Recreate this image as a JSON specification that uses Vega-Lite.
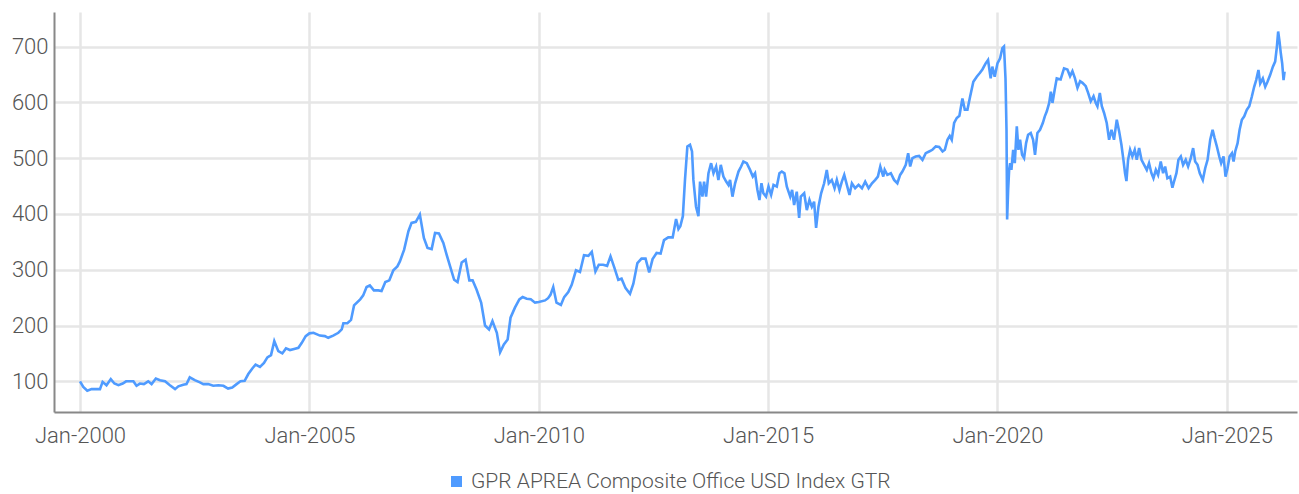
{
  "$schema": "https://vega.github.io/schema/vega-lite/v6.json",
  "width": 1243,
  "height": 400,
  "autosize": {"type": "none"},
  "padding": {"left": 54, "top": 12, "right": 2, "bottom": 82},
  "background": "#ffffff",
  "config": {
    "font": "Roboto",
    "view": {"stroke": null},
    "axis": {
      "labelFont": "Roboto",
      "labelFontWeight": 300,
      "labelFontSize": 22,
      "labelColor": "#555555",
      "domainColor": "#888888",
      "domainWidth": 2,
      "ticks": false,
      "gridColor": "#e6e6e6",
      "gridWidth": 2.5,
      "title": null
    },
    "legend": {
      "labelFont": "Roboto",
      "labelFontWeight": 300,
      "labelFontSize": 21,
      "labelColor": "#555555"
    }
  },
  "data": {
    "values": [
      {"date": "2000-01-01", "value": 100},
      {"date": "2000-01-27", "value": 90},
      {"date": "2000-02-28", "value": 83},
      {"date": "2000-04-02", "value": 86},
      {"date": "2000-05-04", "value": 86},
      {"date": "2000-06-08", "value": 86},
      {"date": "2000-06-29", "value": 99},
      {"date": "2000-07-30", "value": 93},
      {"date": "2000-09-02", "value": 104},
      {"date": "2000-10-01", "value": 96},
      {"date": "2000-11-02", "value": 93},
      {"date": "2000-12-06", "value": 96},
      {"date": "2001-01-02", "value": 100},
      {"date": "2001-02-03", "value": 100},
      {"date": "2001-03-01", "value": 100},
      {"date": "2001-03-26", "value": 92},
      {"date": "2001-04-22", "value": 96},
      {"date": "2001-05-24", "value": 95},
      {"date": "2001-06-27", "value": 100},
      {"date": "2001-07-24", "value": 95},
      {"date": "2001-08-27", "value": 105},
      {"date": "2001-09-29", "value": 102},
      {"date": "2001-11-08", "value": 100},
      {"date": "2001-12-17", "value": 93},
      {"date": "2002-01-27", "value": 86},
      {"date": "2002-02-22", "value": 91},
      {"date": "2002-04-02", "value": 94},
      {"date": "2002-04-28", "value": 95},
      {"date": "2002-05-24", "value": 107},
      {"date": "2002-07-03", "value": 102},
      {"date": "2002-08-13", "value": 98},
      {"date": "2002-09-09", "value": 95},
      {"date": "2002-10-18", "value": 95},
      {"date": "2002-11-27", "value": 92},
      {"date": "2003-01-07", "value": 93},
      {"date": "2003-02-16", "value": 92},
      {"date": "2003-03-25", "value": 87},
      {"date": "2003-04-27", "value": 89},
      {"date": "2003-06-01", "value": 95},
      {"date": "2003-07-02", "value": 100},
      {"date": "2003-08-04", "value": 101},
      {"date": "2003-09-02", "value": 113},
      {"date": "2003-10-04", "value": 123},
      {"date": "2003-10-30", "value": 130},
      {"date": "2003-12-04", "value": 126},
      {"date": "2004-01-05", "value": 133},
      {"date": "2004-02-01", "value": 143},
      {"date": "2004-03-01", "value": 147},
      {"date": "2004-03-27", "value": 172},
      {"date": "2004-04-28", "value": 154},
      {"date": "2004-05-30", "value": 150},
      {"date": "2004-06-28", "value": 159},
      {"date": "2004-07-30", "value": 156},
      {"date": "2004-09-01", "value": 158},
      {"date": "2004-10-05", "value": 160},
      {"date": "2004-11-01", "value": 169},
      {"date": "2004-12-02", "value": 181},
      {"date": "2005-01-01", "value": 186},
      {"date": "2005-02-02", "value": 187},
      {"date": "2005-03-25", "value": 182},
      {"date": "2005-05-04", "value": 181},
      {"date": "2005-05-30", "value": 178},
      {"date": "2005-07-09", "value": 182},
      {"date": "2005-08-19", "value": 187},
      {"date": "2005-09-15", "value": 193},
      {"date": "2005-09-28", "value": 204},
      {"date": "2005-10-30", "value": 204},
      {"date": "2005-11-28", "value": 210},
      {"date": "2005-12-22", "value": 236},
      {"date": "2006-02-09", "value": 247},
      {"date": "2006-03-05", "value": 254},
      {"date": "2006-04-01", "value": 269},
      {"date": "2006-04-27", "value": 272},
      {"date": "2006-05-29", "value": 263},
      {"date": "2006-07-03", "value": 263},
      {"date": "2006-07-29", "value": 262},
      {"date": "2006-08-28", "value": 278},
      {"date": "2006-09-29", "value": 281},
      {"date": "2006-10-31", "value": 299},
      {"date": "2006-12-02", "value": 306},
      {"date": "2006-12-22", "value": 315},
      {"date": "2007-01-25", "value": 336},
      {"date": "2007-02-28", "value": 369},
      {"date": "2007-03-25", "value": 384},
      {"date": "2007-04-28", "value": 386},
      {"date": "2007-05-30", "value": 399},
      {"date": "2007-07-01", "value": 357},
      {"date": "2007-07-30", "value": 339},
      {"date": "2007-09-01", "value": 337},
      {"date": "2007-09-28", "value": 366},
      {"date": "2007-10-29", "value": 365},
      {"date": "2007-12-03", "value": 348},
      {"date": "2007-12-29", "value": 327},
      {"date": "2008-01-26", "value": 306},
      {"date": "2008-02-27", "value": 282},
      {"date": "2008-03-25", "value": 278},
      {"date": "2008-04-27", "value": 313},
      {"date": "2008-05-28", "value": 318},
      {"date": "2008-06-27", "value": 281},
      {"date": "2008-07-23", "value": 281},
      {"date": "2008-08-24", "value": 264},
      {"date": "2008-09-29", "value": 241},
      {"date": "2008-10-30", "value": 200},
      {"date": "2008-12-01", "value": 193},
      {"date": "2008-12-28", "value": 208},
      {"date": "2009-02-01", "value": 187},
      {"date": "2009-02-27", "value": 152},
      {"date": "2009-03-29", "value": 166},
      {"date": "2009-04-28", "value": 175},
      {"date": "2009-05-21", "value": 214},
      {"date": "2009-06-25", "value": 232},
      {"date": "2009-07-30", "value": 247},
      {"date": "2009-08-25", "value": 251},
      {"date": "2009-09-27", "value": 248},
      {"date": "2009-10-29", "value": 247},
      {"date": "2009-12-02", "value": 241},
      {"date": "2010-01-01", "value": 242},
      {"date": "2010-02-20", "value": 245},
      {"date": "2010-03-16", "value": 249},
      {"date": "2010-04-04", "value": 255},
      {"date": "2010-04-26", "value": 269},
      {"date": "2010-05-22", "value": 241},
      {"date": "2010-06-26", "value": 237},
      {"date": "2010-07-22", "value": 251},
      {"date": "2010-08-24", "value": 260},
      {"date": "2010-09-20", "value": 273},
      {"date": "2010-10-24", "value": 299},
      {"date": "2010-11-25", "value": 296},
      {"date": "2010-12-27", "value": 326},
      {"date": "2011-01-31", "value": 325},
      {"date": "2011-02-27", "value": 332},
      {"date": "2011-03-28", "value": 297},
      {"date": "2011-04-24", "value": 309},
      {"date": "2011-05-28", "value": 309},
      {"date": "2011-06-29", "value": 307},
      {"date": "2011-07-26", "value": 324},
      {"date": "2011-08-27", "value": 303},
      {"date": "2011-09-26", "value": 282},
      {"date": "2011-10-22", "value": 284},
      {"date": "2011-11-23", "value": 267},
      {"date": "2011-12-28", "value": 257},
      {"date": "2012-01-24", "value": 275},
      {"date": "2012-02-25", "value": 312},
      {"date": "2012-03-29", "value": 320},
      {"date": "2012-04-30", "value": 320},
      {"date": "2012-05-29", "value": 295},
      {"date": "2012-06-25", "value": 319},
      {"date": "2012-07-27", "value": 330},
      {"date": "2012-08-28", "value": 329},
      {"date": "2012-09-24", "value": 353},
      {"date": "2012-10-28", "value": 358},
      {"date": "2012-12-02", "value": 358},
      {"date": "2012-12-29", "value": 391},
      {"date": "2013-01-17", "value": 373},
      {"date": "2013-02-01", "value": 378},
      {"date": "2013-02-21", "value": 396},
      {"date": "2013-03-10", "value": 461},
      {"date": "2013-03-29", "value": 521},
      {"date": "2013-04-19", "value": 524},
      {"date": "2013-05-05", "value": 512},
      {"date": "2013-05-16", "value": 461},
      {"date": "2013-06-06", "value": 413},
      {"date": "2013-06-25", "value": 396},
      {"date": "2013-07-08", "value": 458},
      {"date": "2013-07-27", "value": 431},
      {"date": "2013-08-09", "value": 458},
      {"date": "2013-08-25", "value": 431},
      {"date": "2013-09-13", "value": 473},
      {"date": "2013-10-04", "value": 491},
      {"date": "2013-10-23", "value": 473},
      {"date": "2013-11-13", "value": 485},
      {"date": "2013-12-01", "value": 461},
      {"date": "2013-12-20", "value": 488},
      {"date": "2014-01-10", "value": 467},
      {"date": "2014-02-01", "value": 458},
      {"date": "2014-02-19", "value": 452},
      {"date": "2014-03-04", "value": 461},
      {"date": "2014-03-23", "value": 431},
      {"date": "2014-04-13", "value": 455},
      {"date": "2014-05-10", "value": 476},
      {"date": "2014-05-31", "value": 485},
      {"date": "2014-06-18", "value": 494},
      {"date": "2014-07-15", "value": 491},
      {"date": "2014-08-10", "value": 479},
      {"date": "2014-09-01", "value": 467},
      {"date": "2014-09-19", "value": 473},
      {"date": "2014-10-08", "value": 443},
      {"date": "2014-10-24", "value": 425},
      {"date": "2014-11-09", "value": 455},
      {"date": "2014-11-24", "value": 437},
      {"date": "2014-12-15", "value": 431},
      {"date": "2015-01-04", "value": 449},
      {"date": "2015-01-25", "value": 434},
      {"date": "2015-02-13", "value": 452},
      {"date": "2015-03-11", "value": 449},
      {"date": "2015-04-01", "value": 473},
      {"date": "2015-04-20", "value": 476},
      {"date": "2015-05-11", "value": 473},
      {"date": "2015-05-30", "value": 449},
      {"date": "2015-06-26", "value": 431},
      {"date": "2015-07-11", "value": 443},
      {"date": "2015-07-27", "value": 416},
      {"date": "2015-08-17", "value": 440},
      {"date": "2015-09-05", "value": 393},
      {"date": "2015-09-18", "value": 431},
      {"date": "2015-10-15", "value": 437},
      {"date": "2015-11-05", "value": 407},
      {"date": "2015-11-26", "value": 425},
      {"date": "2015-12-15", "value": 413},
      {"date": "2016-01-02", "value": 422},
      {"date": "2016-01-18", "value": 375},
      {"date": "2016-02-06", "value": 413},
      {"date": "2016-02-27", "value": 437},
      {"date": "2016-03-22", "value": 455},
      {"date": "2016-04-12", "value": 479},
      {"date": "2016-04-28", "value": 455},
      {"date": "2016-05-22", "value": 461},
      {"date": "2016-06-13", "value": 446},
      {"date": "2016-07-01", "value": 461},
      {"date": "2016-07-22", "value": 443},
      {"date": "2016-08-10", "value": 458},
      {"date": "2016-08-29", "value": 470},
      {"date": "2016-09-19", "value": 452},
      {"date": "2016-10-10", "value": 434},
      {"date": "2016-10-29", "value": 455},
      {"date": "2016-11-24", "value": 446},
      {"date": "2016-12-21", "value": 452},
      {"date": "2017-01-17", "value": 446},
      {"date": "2017-02-12", "value": 458},
      {"date": "2017-03-11", "value": 446},
      {"date": "2017-04-07", "value": 455},
      {"date": "2017-05-03", "value": 461},
      {"date": "2017-05-24", "value": 467},
      {"date": "2017-06-12", "value": 485},
      {"date": "2017-07-06", "value": 467},
      {"date": "2017-07-17", "value": 479},
      {"date": "2017-08-07", "value": 470},
      {"date": "2017-09-04", "value": 473},
      {"date": "2017-09-30", "value": 461},
      {"date": "2017-10-26", "value": 455},
      {"date": "2017-11-17", "value": 470},
      {"date": "2017-12-05", "value": 476},
      {"date": "2018-01-01", "value": 488},
      {"date": "2018-01-20", "value": 509},
      {"date": "2018-02-05", "value": 485},
      {"date": "2018-02-23", "value": 500},
      {"date": "2018-03-21", "value": 503},
      {"date": "2018-04-17", "value": 504},
      {"date": "2018-05-14", "value": 497},
      {"date": "2018-06-09", "value": 509},
      {"date": "2018-07-06", "value": 512},
      {"date": "2018-08-01", "value": 515},
      {"date": "2018-08-28", "value": 521},
      {"date": "2018-09-24", "value": 520},
      {"date": "2018-10-21", "value": 512},
      {"date": "2018-11-08", "value": 515},
      {"date": "2018-11-29", "value": 533},
      {"date": "2018-12-17", "value": 540},
      {"date": "2019-01-02", "value": 533},
      {"date": "2019-01-21", "value": 563},
      {"date": "2019-02-11", "value": 572},
      {"date": "2019-03-04", "value": 576},
      {"date": "2019-03-28", "value": 607},
      {"date": "2019-04-16", "value": 587},
      {"date": "2019-05-07", "value": 587},
      {"date": "2019-05-28", "value": 610},
      {"date": "2019-06-23", "value": 637},
      {"date": "2019-07-20", "value": 646},
      {"date": "2019-08-15", "value": 653},
      {"date": "2019-09-03", "value": 659},
      {"date": "2019-09-29", "value": 670},
      {"date": "2019-10-18", "value": 676},
      {"date": "2019-11-08", "value": 643},
      {"date": "2019-11-21", "value": 664},
      {"date": "2019-12-10", "value": 646},
      {"date": "2020-01-01", "value": 670},
      {"date": "2020-01-22", "value": 679},
      {"date": "2020-02-09", "value": 697},
      {"date": "2020-02-22", "value": 700},
      {"date": "2020-03-05", "value": 643},
      {"date": "2020-03-13", "value": 551},
      {"date": "2020-03-18", "value": 390},
      {"date": "2020-03-26", "value": 443},
      {"date": "2020-04-03", "value": 479},
      {"date": "2020-04-11", "value": 491},
      {"date": "2020-04-21", "value": 479},
      {"date": "2020-05-05", "value": 515},
      {"date": "2020-05-18", "value": 491},
      {"date": "2020-06-03", "value": 557},
      {"date": "2020-06-16", "value": 515},
      {"date": "2020-06-29", "value": 533},
      {"date": "2020-07-15", "value": 506},
      {"date": "2020-07-31", "value": 500},
      {"date": "2020-08-16", "value": 527},
      {"date": "2020-09-01", "value": 542},
      {"date": "2020-09-22", "value": 545},
      {"date": "2020-10-11", "value": 533},
      {"date": "2020-10-26", "value": 506},
      {"date": "2020-11-14", "value": 545},
      {"date": "2020-12-05", "value": 551},
      {"date": "2020-12-27", "value": 563},
      {"date": "2021-01-12", "value": 575},
      {"date": "2021-01-28", "value": 584},
      {"date": "2021-02-16", "value": 599},
      {"date": "2021-03-01", "value": 619},
      {"date": "2021-03-14", "value": 599},
      {"date": "2021-04-01", "value": 623},
      {"date": "2021-04-17", "value": 643},
      {"date": "2021-05-18", "value": 641},
      {"date": "2021-06-14", "value": 661},
      {"date": "2021-07-11", "value": 659},
      {"date": "2021-08-01", "value": 647},
      {"date": "2021-08-20", "value": 656},
      {"date": "2021-09-08", "value": 644},
      {"date": "2021-09-29", "value": 626},
      {"date": "2021-10-20", "value": 638},
      {"date": "2021-11-08", "value": 635},
      {"date": "2021-12-04", "value": 629},
      {"date": "2021-12-23", "value": 617},
      {"date": "2022-01-13", "value": 602},
      {"date": "2022-02-04", "value": 611},
      {"date": "2022-02-22", "value": 599},
      {"date": "2022-03-07", "value": 593},
      {"date": "2022-03-26", "value": 617},
      {"date": "2022-04-11", "value": 593},
      {"date": "2022-04-29", "value": 581},
      {"date": "2022-05-20", "value": 563},
      {"date": "2022-06-08", "value": 533},
      {"date": "2022-06-27", "value": 551},
      {"date": "2022-07-17", "value": 533},
      {"date": "2022-08-08", "value": 569},
      {"date": "2022-08-27", "value": 548},
      {"date": "2022-09-14", "value": 524},
      {"date": "2022-09-30", "value": 497},
      {"date": "2022-10-13", "value": 473},
      {"date": "2022-10-24", "value": 459},
      {"date": "2022-11-06", "value": 497},
      {"date": "2022-11-22", "value": 515},
      {"date": "2022-12-10", "value": 503},
      {"date": "2022-12-29", "value": 515},
      {"date": "2023-01-14", "value": 497},
      {"date": "2023-02-02", "value": 518},
      {"date": "2023-02-21", "value": 497},
      {"date": "2023-03-14", "value": 488},
      {"date": "2023-04-04", "value": 479},
      {"date": "2023-04-22", "value": 491},
      {"date": "2023-05-11", "value": 473},
      {"date": "2023-05-27", "value": 464},
      {"date": "2023-06-15", "value": 479},
      {"date": "2023-07-03", "value": 470},
      {"date": "2023-07-24", "value": 494},
      {"date": "2023-08-12", "value": 473},
      {"date": "2023-08-28", "value": 485},
      {"date": "2023-09-15", "value": 464},
      {"date": "2023-10-07", "value": 467},
      {"date": "2023-10-25", "value": 447},
      {"date": "2023-11-08", "value": 459},
      {"date": "2023-11-26", "value": 473},
      {"date": "2023-12-12", "value": 497},
      {"date": "2023-12-31", "value": 503},
      {"date": "2024-01-18", "value": 488},
      {"date": "2024-02-08", "value": 497},
      {"date": "2024-02-27", "value": 485},
      {"date": "2024-03-19", "value": 500},
      {"date": "2024-04-07", "value": 518},
      {"date": "2024-04-23", "value": 494},
      {"date": "2024-05-12", "value": 488},
      {"date": "2024-05-30", "value": 473},
      {"date": "2024-06-23", "value": 461},
      {"date": "2024-07-12", "value": 482},
      {"date": "2024-07-31", "value": 497},
      {"date": "2024-08-21", "value": 533},
      {"date": "2024-09-09", "value": 551},
      {"date": "2024-09-25", "value": 536},
      {"date": "2024-10-13", "value": 521},
      {"date": "2024-11-01", "value": 503},
      {"date": "2024-11-16", "value": 491},
      {"date": "2024-12-05", "value": 503},
      {"date": "2024-12-21", "value": 467},
      {"date": "2025-01-06", "value": 482},
      {"date": "2025-01-22", "value": 503},
      {"date": "2025-02-10", "value": 509},
      {"date": "2025-02-23", "value": 494},
      {"date": "2025-03-08", "value": 512},
      {"date": "2025-03-27", "value": 527},
      {"date": "2025-04-12", "value": 551},
      {"date": "2025-04-30", "value": 569},
      {"date": "2025-05-19", "value": 575},
      {"date": "2025-06-09", "value": 587},
      {"date": "2025-06-28", "value": 593},
      {"date": "2025-07-18", "value": 610},
      {"date": "2025-08-06", "value": 628},
      {"date": "2025-08-22", "value": 640},
      {"date": "2025-09-09", "value": 658},
      {"date": "2025-09-23", "value": 634},
      {"date": "2025-10-14", "value": 643},
      {"date": "2025-11-02", "value": 628},
      {"date": "2025-11-20", "value": 637},
      {"date": "2025-12-11", "value": 649},
      {"date": "2026-01-02", "value": 664},
      {"date": "2026-01-20", "value": 673},
      {"date": "2026-02-03", "value": 700},
      {"date": "2026-02-13", "value": 727},
      {"date": "2026-02-24", "value": 709},
      {"date": "2026-03-06", "value": 688},
      {"date": "2026-03-17", "value": 670},
      {"date": "2026-03-28", "value": 640},
      {"date": "2026-04-05", "value": 655}
    ]
  },
  "mark": {"type": "line", "strokeWidth": 2.6, "interpolate": "linear"},
  "encoding": {
    "x": {
      "field": "date",
      "type": "temporal",
      "scale": {"domain": ["1999-06-08", "2026-07-13"], "nice": false},
      "axis": {
        "values": ["2000-01-01", "2005-01-01", "2010-01-01", "2015-01-01", "2020-01-01", "2025-01-01"],
        "format": "%b-%Y",
        "labelPadding": 13,
        "labelFlush": false,
        "grid": true
      }
    },
    "y": {
      "field": "value",
      "type": "quantitative",
      "scale": {"domain": [45, 762], "nice": false, "zero": false},
      "axis": {
        "values": [100, 200, 300, 400, 500, 600, 700],
        "labelPadding": 6,
        "grid": true
      }
    },
    "color": {
      "datum": "GPR APREA Composite Office USD Index GTR",
      "type": "nominal",
      "scale": {"range": ["#4f9bff"]},
      "legend": {
        "orient": "none",
        "legendX": 392,
        "legendY": 459,
        "direction": "horizontal",
        "title": null,
        "symbolType": "square",
        "symbolSize": 121,
        "symbolFillColor": "#4f9bff",
        "symbolStrokeWidth": 0,
        "symbolOpacity": 1,
        "labelOffset": 4,
        "labelLimit": 0
      }
    }
  }
}
